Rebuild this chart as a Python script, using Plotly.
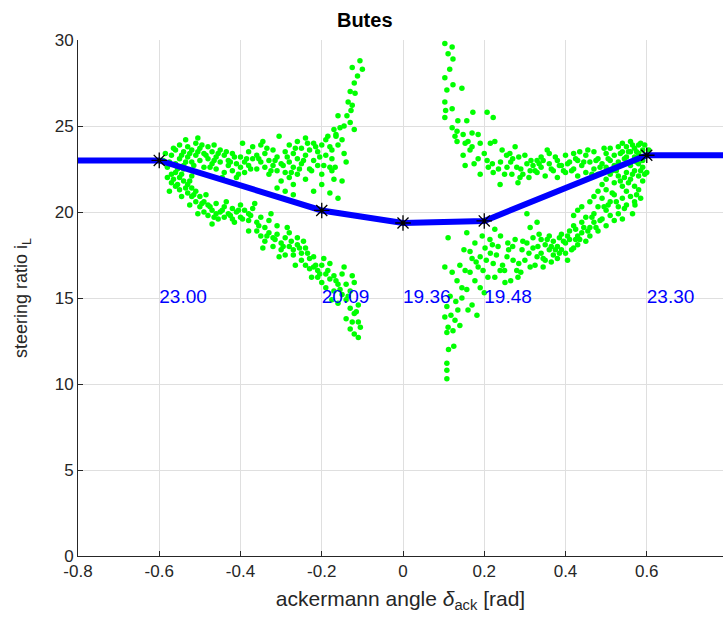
import plotly.graph_objects as go

# ---------------- data ----------------
knot_x = [-0.6, -0.2, 0.0, 0.2, 0.6]
knot_y = [23.00, 20.09, 19.36, 19.48, 23.30]
curve_x = [-0.8, -0.6, -0.2, 0.0, 0.2, 0.6, 0.8]
curve_y = [23.00, 23.00, 20.09, 19.36, 19.48, 23.30, 23.30]
label_text = ["23.00", "20.09", "19.36", "19.48", "23.30"]
label_y = 15

left_upper_pts = [
    (-0.59,23.0),(-0.58,22.6),(-0.57,23.3),(-0.57,22.2),(-0.56,23.6),(-0.56,22.8),(-0.55,23.9),(-0.55,23.1),
    (-0.54,23.5),(-0.54,22.7),(-0.53,23.8),(-0.53,23.2),(-0.52,23.6),(-0.52,22.9),(-0.51,24.0),(-0.51,23.3),
    (-0.50,23.7),(-0.50,23.0),(-0.49,23.4),(-0.49,22.6),(-0.48,23.8),(-0.48,23.1),(-0.47,23.5),(-0.47,22.8),
    (-0.46,23.2),(-0.46,22.5),(-0.45,23.6),(-0.45,22.9),(-0.44,22.3),(-0.44,23.3),(-0.43,22.7),(-0.43,23.0),
    (-0.42,22.4),(-0.42,23.4),(-0.41,22.8),(-0.41,22.0),(-0.40,22.6),(-0.40,23.2),(-0.39,22.9),(-0.39,22.3),
    (-0.38,23.5),(-0.38,22.7),(-0.37,23.1),(-0.37,23.8),(-0.36,22.5),(-0.36,23.3),(-0.35,22.9),(-0.35,23.9),
    (-0.34,22.6),(-0.34,23.4),(-0.33,22.2),(-0.33,23.0),(-0.32,22.7),(-0.32,23.6),(-0.31,22.4),(-0.31,23.2),
    (-0.30,21.8),(-0.30,22.8),(-0.29,22.3),(-0.29,23.5),(-0.28,22.0),(-0.28,22.9),(-0.28,23.9),(-0.27,21.6),
    (-0.27,22.6),(-0.27,23.4),(-0.26,22.2),(-0.26,23.1),(-0.26,24.1),(-0.25,22.8),(-0.25,23.7),(-0.24,21.9),
    (-0.24,23.3),(-0.24,24.3),(-0.23,22.5),(-0.23,23.6),(-0.22,23.0),(-0.22,24.0),(-0.21,22.7),(-0.21,23.5),
    (-0.20,22.2),(-0.20,23.9),(-0.19,23.3),(-0.19,24.2),(-0.18,22.6),(-0.18,23.8),
    (-0.31,21.4),(-0.29,21.2),(-0.27,21.0),(-0.22,21.2),(-0.20,21.6),(-0.18,21.1),
    (-0.535,24.2),(-0.505,24.3),(-0.465,23.9),(-0.445,22.0),(-0.395,24.0),(-0.345,24.1),(-0.305,24.4),
    (-0.585,23.4),(-0.575,22.9),(-0.565,23.7),(-0.555,22.5),(-0.545,23.3),(-0.535,22.9),(-0.525,23.4),
    (-0.515,22.7),(-0.505,23.5),(-0.495,23.9),(-0.485,23.3),(-0.475,22.6),(-0.465,23.0),(-0.455,23.4),
    (-0.435,23.5),(-0.425,22.9),(-0.415,23.2),(-0.405,22.2),(-0.385,23.1),(-0.375,22.5),(-0.355,23.1),
    (-0.335,23.7),(-0.325,22.4),(-0.315,23.0),(-0.295,22.7),(-0.285,23.2),(-0.275,22.3),(-0.265,23.7),
    (-0.255,22.5),(-0.245,23.0),(-0.235,24.0),(-0.225,22.4),(-0.215,23.8),(-0.205,23.2),(-0.195,22.7),
    (-0.185,24.4),(-0.175,23.1),(-0.165,24.4),
]
left_rise_pts = [
    (-0.106,28.8),(-0.10,28.3),(-0.125,28.4),(-0.12,27.5),(-0.118,26.9),(-0.13,27.0),(-0.135,26.4),
    (-0.125,26.2),(-0.138,25.6),(-0.13,25.2),(-0.16,25.6),(-0.155,24.9),(-0.12,24.8),(-0.17,24.8),
    (-0.15,24.2),(-0.16,23.9),(-0.175,23.6),(-0.167,22.6),(-0.175,22.4),(-0.17,21.9),(-0.145,23.4),
    (-0.14,22.9),(-0.15,21.8),(-0.16,20.8),(-0.112,27.9),(-0.128,25.9),(-0.145,25.0),(-0.165,24.5),
]
left_lower_pts = [
    (-0.58,22.0),(-0.57,21.7),(-0.56,22.3),(-0.56,21.5),(-0.55,22.0),(-0.55,21.3),(-0.54,21.8),(-0.54,22.5),
    (-0.53,21.1),(-0.53,21.6),(-0.52,20.9),(-0.52,21.4),(-0.52,22.1),(-0.51,20.6),(-0.51,21.2),(-0.50,20.3),
    (-0.50,20.9),(-0.49,20.0),(-0.49,20.6),(-0.48,19.8),(-0.48,20.4),(-0.47,20.1),(-0.47,19.3),(-0.46,19.9),
    (-0.46,20.5),(-0.45,20.0),(-0.44,19.7),(-0.44,20.3),(-0.43,19.9),(-0.42,20.2),(-0.42,19.6),(-0.41,20.0),
    (-0.40,19.7),(-0.40,20.4),(-0.39,20.1),(-0.38,19.5),(-0.38,19.9),(-0.37,20.2),(-0.36,19.4),(-0.36,18.9),
    (-0.35,19.7),(-0.35,18.6),(-0.34,19.1),(-0.34,18.3),(-0.33,18.8),(-0.33,19.5),(-0.32,18.5),(-0.32,18.0),
    (-0.31,18.7),(-0.31,19.2),(-0.30,18.2),(-0.30,17.8),(-0.29,18.5),(-0.29,17.5),(-0.28,18.0),(-0.28,18.8),
    (-0.27,17.8),(-0.27,17.5),(-0.26,18.1),(-0.26,18.5),(-0.25,17.6),(-0.25,17.2),(-0.24,17.9),(-0.24,16.9),
    (-0.23,17.3),(-0.23,16.7),(-0.22,16.8),(-0.22,17.4),(-0.21,16.2),(-0.21,16.6),(-0.20,15.9),(-0.20,16.9),
    (-0.19,16.4),(-0.19,15.6),(-0.18,16.1),(-0.18,17.0),(-0.17,15.4),(-0.17,16.3),(-0.16,15.8),(-0.16,14.7),
    (-0.15,15.2),(-0.15,16.4),(-0.14,14.9),(-0.14,15.8),(-0.14,13.8),(-0.13,14.4),(-0.13,15.4),(-0.13,13.2),
    (-0.12,14.1),(-0.12,15.9),(-0.12,12.9),(-0.11,13.6),(-0.11,14.6),(-0.11,12.7),
    (-0.575,21.2),(-0.545,20.9),(-0.525,20.4),(-0.505,19.9),(-0.485,21.0),(-0.455,19.6),(-0.435,20.6),
    (-0.415,19.4),(-0.38,18.9),(-0.365,20.5),(-0.345,17.9),(-0.325,19.9),(-0.305,17.4),(-0.285,19.1),
    (-0.265,16.9),(-0.245,18.3),(-0.225,16.2),(-0.195,17.3),(-0.175,14.9),(-0.145,16.8),(-0.125,16.3),
    (-0.565,21.9),(-0.555,21.6),(-0.545,22.2),(-0.535,21.4),(-0.525,21.8),(-0.515,21.0),(-0.495,20.5),
    (-0.475,20.3),(-0.465,19.7),(-0.445,20.1),(-0.425,19.8),(-0.405,20.1),(-0.395,19.6),(-0.375,19.8),
    (-0.355,19.2),(-0.335,18.6),(-0.315,18.4),(-0.295,18.0),(-0.275,18.3),(-0.255,17.9),(-0.235,17.6),
    (-0.215,16.9),(-0.205,16.4),(-0.185,16.6),(-0.165,16.0),(-0.155,15.5),(-0.135,15.1),(-0.115,14.2),
    (-0.105,13.3),(-0.125,13.6),
]
right_upper_pts = [
    (0.103,29.8),(0.121,29.6),(0.111,29.2),(0.123,28.9),(0.103,27.8),(0.123,27.4),(0.145,27.2),(0.108,27.1),
    (0.103,26.4),(0.121,26.0),(0.103,25.5),(0.135,25.3),(0.157,25.3),(0.172,25.8),(0.207,25.8),(0.222,25.5),
    (0.121,24.9),(0.133,24.7),(0.148,24.5),(0.17,24.6),(0.185,24.5),(0.133,24.1),(0.153,24.0),(0.17,23.8),
    (0.19,24.0),(0.226,24.1),(0.148,23.3),(0.165,23.6),(0.153,22.7),(0.185,23.1),(0.207,23.0),(0.19,22.2),
    (0.21,22.6),(0.222,22.3),(0.239,21.6),(0.244,23.6),(0.263,23.4),(0.276,23.8),(0.256,22.6),(0.28,22.6),
    (0.268,22.2),(0.288,22.0),(0.283,21.7),(0.305,22.8),(0.313,22.4),(0.33,22.3),(0.33,23.0),
    (0.22,22.8),(0.24,22.9),(0.25,22.2),(0.27,23.1),(0.29,22.5),(0.30,23.3),(0.31,22.0),(0.32,22.7),
    (0.34,22.6),(0.34,23.2),(0.35,22.1),(0.36,22.8),(0.36,23.4),(0.37,22.4),(0.38,23.0),(0.38,22.0),
    (0.39,22.7),(0.40,23.3),(0.40,22.3),(0.41,22.9),(0.42,22.5),(0.42,23.4),(0.43,22.1),(0.43,23.0),
    (0.44,22.7),(0.45,23.3),(0.45,22.3),(0.46,22.9),(0.47,23.5),(0.47,22.5),(0.48,23.1),(0.48,22.2),
    (0.49,22.8),(0.50,23.4),(0.50,22.6),(0.51,23.0),(0.51,23.7),(0.52,22.7),(0.52,23.3),(0.53,23.8),
    (0.53,22.9),(0.54,23.5),(0.54,24.0),(0.55,23.2),(0.55,23.8),(0.56,23.5),(0.56,24.1),(0.57,23.7),
    (0.57,23.2),(0.58,23.9),(0.58,23.4),(0.59,23.6),(0.59,23.0),(0.60,23.3),
    (0.355,23.6),(0.395,22.4),(0.435,23.5),(0.465,22.2),(0.495,23.7),(0.525,22.4),(0.545,23.1),(0.565,23.9),
    (0.585,24.0),(0.575,22.9),
    (0.115,28.3),(0.105,25.9),(0.128,24.4),(0.16,24.1),(0.175,22.8),(0.20,23.4),(0.215,24.0),(0.235,22.5),
    (0.255,23.3),(0.265,22.9),(0.285,23.2),(0.295,22.2),(0.315,23.0),(0.325,22.4),(0.335,22.8),(0.345,23.0),
    (0.365,22.5),(0.375,23.2),(0.385,22.7),(0.405,22.8),(0.415,22.4),(0.425,23.1),(0.445,22.9),(0.455,23.6),
    (0.475,23.0),(0.485,22.6),(0.505,23.1),(0.515,22.4),(0.535,23.4),(0.555,23.5),(0.575,23.5),(0.595,23.9),
    (0.605,23.6),
]
right_lower_pts = [
    (0.108,11.2),(0.108,10.8),(0.108,10.3),(0.108,13.0),(0.111,13.3),(0.123,13.1),(0.103,13.9),(0.128,13.7),
    (0.14,13.4),(0.108,14.5),(0.135,14.3),(0.182,14.0),(0.17,14.6),(0.116,15.1),(0.145,15.0),(0.103,16.8),
    (0.121,16.5),(0.133,16.0),(0.145,15.6),(0.157,15.5),(0.165,16.5),(0.153,16.6),(0.177,16.0),(0.19,15.6),
    (0.111,18.5),(0.157,18.8),(0.165,17.7),(0.177,18.2),(0.19,17.4),(0.202,17.9),(0.214,18.4),(0.226,19.0),
    (0.234,18.0),(0.222,17.0),(0.239,16.6),(0.256,17.4),(0.258,18.2),(0.271,17.2),(0.28,16.6),(0.283,16.2),
    (0.209,16.2),(0.197,16.6),(0.226,16.2),(0.251,15.9),(0.276,18.4),(0.293,17.8),(0.30,17.2),(0.313,16.8),
    (0.305,19.9),(0.313,19.1),(0.33,19.4),(0.32,18.5),(0.332,18.0),(0.33,17.4),
    (0.34,17.6),(0.34,18.4),(0.35,17.2),(0.35,18.1),(0.36,17.8),(0.36,18.6),(0.37,17.5),(0.37,18.3),
    (0.38,18.0),(0.38,17.3),(0.39,18.7),(0.39,17.8),(0.40,18.2),(0.40,17.6),(0.41,18.9),(0.41,18.4),
    (0.42,17.9),(0.42,19.2),(0.43,18.6),(0.43,18.1),(0.44,19.4),(0.44,18.8),(0.45,18.3),(0.45,19.7),
    (0.46,19.1),(0.46,18.6),(0.47,19.9),(0.47,19.4),(0.48,18.9),(0.48,20.3),(0.49,19.6),(0.49,20.8),
    (0.50,19.2),(0.50,20.1),(0.50,21.3),(0.51,19.8),(0.51,20.6),(0.52,19.5),(0.52,21.0),(0.52,21.7),
    (0.53,20.3),(0.53,19.9),(0.53,22.1),(0.54,20.8),(0.54,21.5),(0.54,19.6),(0.55,21.2),(0.55,22.3),
    (0.55,20.4),(0.56,21.9),(0.56,22.7),(0.56,20.9),(0.57,22.4),(0.57,21.5),(0.58,22.8),(0.58,22.1),
    (0.59,23.2),(0.59,22.6),
    (0.42,19.8),(0.43,20.1),(0.44,20.3),(0.46,20.6),(0.47,20.9),(0.48,21.2),(0.49,21.6),(0.50,21.9),
    (0.51,22.2),(0.57,20.6),(0.58,21.3),(0.59,21.8),(0.60,22.3),(0.571,20.4),(0.565,19.9),
    (0.125,12.2),(0.13,14.8),(0.16,14.3),(0.18,17.1),(0.20,15.3),(0.215,17.6),(0.245,16.9),(0.265,16.0),
    (0.29,16.5),(0.305,18.2),(0.325,16.9),(0.345,16.8),(0.365,17.1),(0.385,18.5),(0.405,17.2),(0.425,18.4),
    (0.112,12.0),(0.118,14.0),(0.14,16.9),(0.15,17.8),(0.17,17.3),(0.185,16.8),(0.195,18.6),(0.205,17.2),
    (0.22,18.1),(0.23,17.5),(0.24,18.6),(0.25,16.6),(0.26,17.8),(0.27,18.0),(0.285,17.0),(0.295,18.3),
    (0.31,17.6),(0.32,17.9),(0.335,18.7),(0.345,17.3),(0.355,18.4),(0.365,18.0),(0.375,17.8),(0.385,17.6),
    (0.395,18.3),(0.405,18.6),(0.415,17.8),(0.425,19.0),(0.435,18.4),(0.445,19.1),(0.455,18.9),(0.465,19.7),
    (0.475,19.1),(0.485,19.5),(0.495,20.3),(0.505,20.4),(0.515,21.1),(0.525,20.6),(0.535,21.8),(0.545,22.0),
    (0.545,20.2),(0.555,21.7),(0.565,22.2),(0.575,21.0),(0.585,22.4),(0.595,22.2),(0.585,20.8),
]

# ---------------- figure ----------------
FONT = "Liberation Sans, Arial, sans-serif"
fig = go.Figure()

for pts in [left_upper_pts, left_rise_pts, left_lower_pts, right_upper_pts, right_lower_pts]:
    xs = [p[0] for p in pts]
    ys = [p[1] for p in pts]
    fig.add_trace(go.Scatter(x=xs, y=ys, mode="markers",
                             marker=dict(color="rgb(0,255,0)", size=5.5, line=dict(width=0)),
                             hoverinfo="skip", showlegend=False))

fig.add_trace(go.Scatter(x=curve_x, y=curve_y, mode="lines",
                         line=dict(color="rgb(0,0,255)", width=6),
                         showlegend=False))
fig.add_trace(go.Scatter(x=knot_x, y=knot_y, mode="markers",
                         marker=dict(symbol="asterisk-open", size=13, color="black",
                                     line=dict(color="black", width=1.3)),
                         showlegend=False))
fig.add_trace(go.Scatter(x=knot_x, y=[label_y] * len(knot_x), mode="text",
                         text=label_text, textposition="middle right",
                         textfont=dict(family=FONT, size=19, color="rgb(0,0,255)"),
                         showlegend=False))

axis_common = dict(
    showgrid=True, gridcolor="rgb(223,223,223)", gridwidth=1,
    zeroline=False, showline=True, linecolor="rgb(38,38,38)", linewidth=1,
    ticks="inside", ticklen=5, tickcolor="rgb(38,38,38)",
    tickfont=dict(family=FONT, size=17, color="rgb(38,38,38)"),
)

fig.update_layout(
    width=723, height=623,
    margin=dict(l=78, r=0, t=40, b=67),
    paper_bgcolor="white", plot_bgcolor="white",
    title=dict(text="<b>Butes</b>", x=0.5045, xanchor="center", y=0.968, yanchor="middle",
               font=dict(family=FONT, size=20, color="black")),
    xaxis=dict(range=[-0.8, 0.7877], tickvals=[-0.8, -0.6, -0.4, -0.2, 0, 0.2, 0.4, 0.6],
               ticktext=["-0.8", "-0.6", "-0.4", "-0.2", "0", "0.2", "0.4", "0.6"],
               title=dict(text="ackermann angle <i>δ</i><sub>ack</sub> [rad]", standoff=10,
                          font=dict(family=FONT, size=21, color="rgb(38,38,38)")),
               **axis_common),
    yaxis=dict(range=[0, 30], tickvals=[0, 5, 10, 15, 20, 25, 30],
               title=dict(text="steering ratio i<sub>L</sub>", standoff=22,
                          font=dict(family=FONT, size=18, color="rgb(38,38,38)")),
               **axis_common),
)

fig.write_html("out.html")
